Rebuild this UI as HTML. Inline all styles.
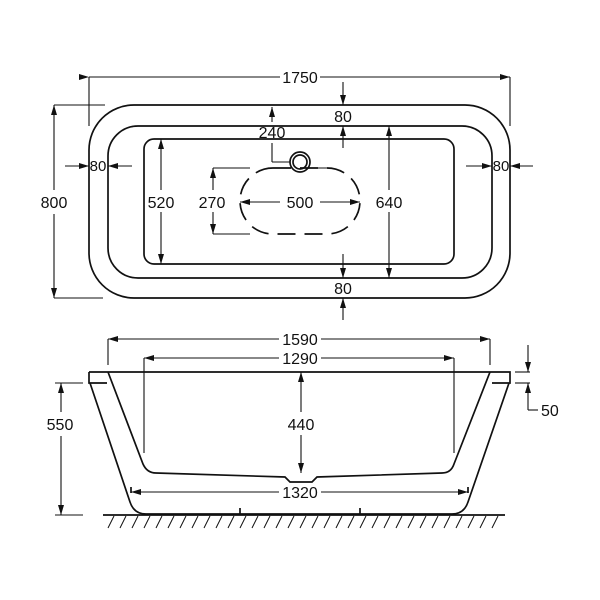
<!DOCTYPE html><html><head><style>body{margin:0;background:#fff}svg{display:block}text{font-family:"Liberation Sans",sans-serif;font-size:16px;fill:#111}</style></head><body>
<svg width="600" height="600" viewBox="0 0 600 600" xmlns="http://www.w3.org/2000/svg">
<defs><marker id="a" markerWidth="10" markerHeight="6" refX="10" refY="3" orient="auto" markerUnits="userSpaceOnUse"><path d="M0,0L10,3L0,6z" fill="#111"/></marker></defs>
<g fill="none" stroke="#111" stroke-width="1.7">
<rect x="89" y="105" width="421" height="193" rx="45"/>
<rect x="108" y="126" width="384" height="152" rx="30"/>
<rect x="144" y="139" width="310" height="125" rx="10"/>
<rect x="240" y="168" width="120" height="66" rx="33" stroke-dasharray="18,9"/>
<circle cx="300" cy="162" r="10"/><circle cx="300" cy="162" r="7"/>
</g>
<g fill="none" stroke="#111" stroke-width="1.1">
<line x1="89" y1="77" x2="89" y2="126"/><line x1="510" y1="77" x2="510" y2="126"/>
<line x1="89" y1="77" x2="280" y2="77" marker-start="url(#a)"/><line x1="320" y1="77" x2="510" y2="77" marker-end="url(#a)"/>
<line x1="54" y1="105" x2="105" y2="105"/><line x1="54" y1="298" x2="103" y2="298"/>
<line x1="54" y1="190" x2="54" y2="105" marker-end="url(#a)"/><line x1="54" y1="214" x2="54" y2="298" marker-end="url(#a)"/>
<line x1="343" y1="82" x2="343" y2="105" marker-end="url(#a)"/><line x1="343" y1="148" x2="343" y2="126" marker-end="url(#a)"/>
<line x1="343" y1="254" x2="343" y2="278" marker-end="url(#a)"/><line x1="343" y1="320" x2="343" y2="298" marker-end="url(#a)"/>
<line x1="272" y1="122" x2="272" y2="107" marker-end="url(#a)"/><line x1="272" y1="143" x2="272" y2="162"/><line x1="272" y1="162" x2="290" y2="162"/><line x1="310" y1="168" x2="328" y2="168"/>
<line x1="213" y1="168" x2="250" y2="168"/><line x1="213" y1="234" x2="250" y2="234"/>
<line x1="213" y1="190" x2="213" y2="168" marker-end="url(#a)"/><line x1="213" y1="212" x2="213" y2="234" marker-end="url(#a)"/>
<line x1="280" y1="202" x2="240" y2="202" marker-end="url(#a)"/><line x1="320" y1="202" x2="360" y2="202" marker-end="url(#a)"/>
<line x1="161" y1="190" x2="161" y2="139" marker-end="url(#a)"/><line x1="161" y1="212" x2="161" y2="264" marker-end="url(#a)"/>
<line x1="389" y1="190" x2="389" y2="126" marker-end="url(#a)"/><line x1="389" y1="212" x2="389" y2="278" marker-end="url(#a)"/>
<line x1="65" y1="166" x2="89" y2="166" marker-end="url(#a)"/><line x1="132" y1="166" x2="108" y2="166" marker-end="url(#a)"/>
<line x1="466" y1="166" x2="492" y2="166" marker-end="url(#a)"/><line x1="533" y1="166" x2="510" y2="166" marker-end="url(#a)"/>
</g>
<text x="300" y="83" text-anchor="middle">1750</text>
<text x="343" y="122" text-anchor="middle">80</text>
<text x="272" y="138" text-anchor="middle">240</text>
<text x="54" y="208" text-anchor="middle">800</text>
<text x="98" y="171" text-anchor="middle" style="font-size:15px">80</text>
<text x="501" y="171" text-anchor="middle" style="font-size:15px">80</text>
<text x="161" y="208" text-anchor="middle">520</text>
<text x="212" y="208" text-anchor="middle">270</text>
<text x="300" y="208" text-anchor="middle">500</text>
<text x="389" y="208" text-anchor="middle">640</text>
<text x="343" y="294" text-anchor="middle">80</text>
<g fill="none" stroke="#111" stroke-width="1.7">
<path d="M89,372H510V383H492M89,372V383H107"/>
<path d="M90,383L130,502Q134,514 146,514H452Q464,514 468,502L509,383"/>
<path d="M108,372L143,464Q147,473 156,473L285,477L290,482H312L317,477L442,473Q451,473 454,464L490,372"/>
<path d="M131,493V487M468,493V487"/>
<line x1="103" y1="515" x2="505" y2="515"/><line x1="240" y1="508" x2="240" y2="515"/><line x1="360" y1="508" x2="360" y2="515"/>
</g>
<g stroke="#111" stroke-width="1">
<path d="M108,528l6,-12M120,528l6,-12M132,528l6,-12M144,528l6,-12M156,528l6,-12M168,528l6,-12M180,528l6,-12M192,528l6,-12M204,528l6,-12M216,528l6,-12M228,528l6,-12M240,528l6,-12M252,528l6,-12M264,528l6,-12M276,528l6,-12M288,528l6,-12M300,528l6,-12M312,528l6,-12M324,528l6,-12M336,528l6,-12M348,528l6,-12M360,528l6,-12M372,528l6,-12M384,528l6,-12M396,528l6,-12M408,528l6,-12M420,528l6,-12M432,528l6,-12M444,528l6,-12M456,528l6,-12M468,528l6,-12M480,528l6,-12M492,528l6,-12"/>
</g>
<g fill="none" stroke="#111" stroke-width="1.1">
<line x1="108" y1="339" x2="108" y2="365"/><line x1="490" y1="339" x2="490" y2="365"/>
<line x1="279" y1="339" x2="108" y2="339" marker-end="url(#a)"/><line x1="321" y1="339" x2="490" y2="339" marker-end="url(#a)"/>
<line x1="144" y1="358" x2="144" y2="453"/><line x1="454" y1="358" x2="454" y2="453"/>
<line x1="279" y1="358" x2="144" y2="358" marker-end="url(#a)"/><line x1="321" y1="358" x2="454" y2="358" marker-end="url(#a)"/>
<line x1="301" y1="412" x2="301" y2="372" marker-end="url(#a)"/><line x1="301" y1="435" x2="301" y2="473" marker-end="url(#a)"/>
<line x1="279" y1="492" x2="131" y2="492" marker-end="url(#a)"/><line x1="321" y1="492" x2="468" y2="492" marker-end="url(#a)"/>
<line x1="55" y1="383" x2="83" y2="383"/><line x1="55" y1="515" x2="83" y2="515"/>
<line x1="61" y1="412" x2="61" y2="383" marker-end="url(#a)"/><line x1="61" y1="436" x2="61" y2="515" marker-end="url(#a)"/>
<line x1="515" y1="372" x2="530" y2="372"/><line x1="515" y1="383" x2="530" y2="383"/>
<line x1="528" y1="345" x2="528" y2="372" marker-end="url(#a)"/><path d="M528,410V383" marker-end="url(#a)"/><line x1="528" y1="410" x2="538" y2="410"/>
</g>
<text x="300" y="345" text-anchor="middle">1590</text>
<text x="300" y="364" text-anchor="middle">1290</text>
<text x="301" y="430" text-anchor="middle">440</text>
<text x="60" y="430" text-anchor="middle">550</text>
<text x="300" y="498" text-anchor="middle">1320</text>
<text x="541" y="416">50</text>
</svg></body></html>
